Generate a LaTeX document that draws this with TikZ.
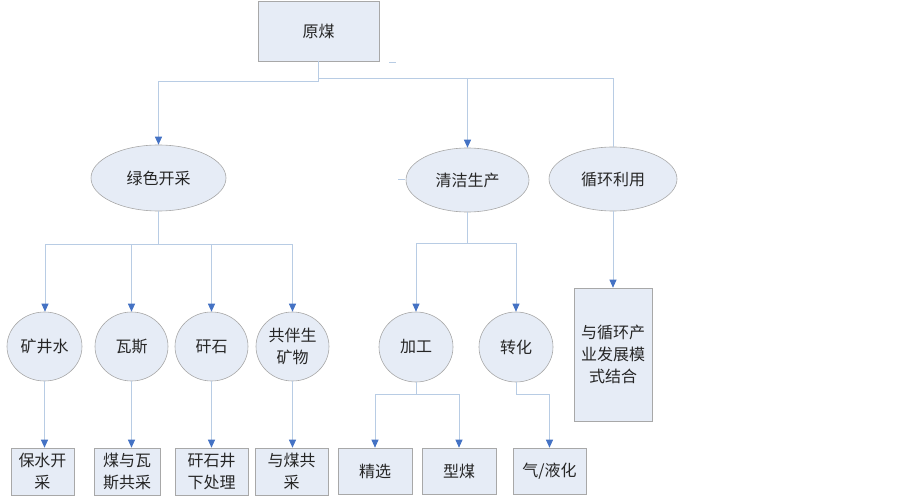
\documentclass[tikz,border=0pt]{standalone}
\usepackage{fontspec}
\setmainfont{Noto Sans CJK SC}
\usetikzlibrary{shapes.geometric,arrows.meta}
\definecolor{boxfill}{HTML}{E6ECF6}
\definecolor{boxline}{HTML}{A8A8A8}
\definecolor{linecol}{HTML}{B8CCE4}
\definecolor{arrowcol}{HTML}{4472C4}
\tikzset{
  base/.style={draw=boxline, fill=boxfill, line width=0.6pt, inner sep=0pt, align=center,
    font=\fontsize{16}{22}\selectfont, text=black!85},
  rectbox/.style={base, rectangle},
  ellbox/.style={base, ellipse},
  conn/.style={draw=linecol, line width=0.9pt},
  arr/.style={conn, -{Triangle[width=7pt,length=8pt,color=arrowcol]}},
}
\begin{document}
\begin{tikzpicture}[x=1pt,y=-1pt]
\useasboundingbox (0,0) rectangle (903,497);
% nodes
\node[rectbox, minimum width=121pt, minimum height=60pt] (raw) at (318.5,31) {原煤};
\node[ellbox, minimum width=135pt, minimum height=66pt] (green) at (158.5,178) {绿色开采};
\node[ellbox, minimum width=123pt, minimum height=64pt] (clean) at (467.5,180) {清洁生产};
\node[ellbox, minimum width=128pt, minimum height=64pt] (cycle) at (613,179) {循环利用};
\node[ellbox, minimum width=75pt, minimum height=69pt] (c1) at (44.5,346.5) {矿井水};
\node[ellbox, minimum width=73pt, minimum height=69pt] (c2) at (131.5,346.5) {瓦斯};
\node[ellbox, minimum width=73pt, minimum height=69pt] (c3) at (211.5,346.5) {矸石};
\node[ellbox, minimum width=73pt, minimum height=69pt] (c4) at (292.5,346.5) {共伴生\\矿物};
\node[ellbox, minimum width=74pt, minimum height=70pt] (c5) at (416,347) {加工};
\node[ellbox, minimum width=74pt, minimum height=70pt] (c6) at (516,347) {转化};
\node[rectbox, minimum width=63pt, minimum height=47pt] (b1) at (42.5,471.5) {保水开\\采};
\node[rectbox, minimum width=66pt, minimum height=47pt] (b2) at (127,471.5) {煤与瓦\\斯共采};
\node[rectbox, minimum width=73pt, minimum height=47pt] (b3) at (211.5,471.5) {矸石井\\下处理};
\node[rectbox, minimum width=73pt, minimum height=47pt] (b4) at (291.5,471.5) {与煤共\\采};
\node[rectbox, minimum width=74pt, minimum height=46pt] (b5) at (375,471) {精选};
\node[rectbox, minimum width=74pt, minimum height=46pt] (b6) at (459,471) {型煤};
\node[rectbox, minimum width=73pt, minimum height=46pt] (b7) at (549.5,471) {气/液化};
\node[rectbox, minimum width=78pt, minimum height=133pt] (b8) at (613,354.5) {与循环产\\业发展模\\式结合};
% junction coordinates
\coordinate (rjl) at (318.5,81);
\coordinate (rjr) at (318.5,78);
\coordinate (gj) at (158.5,244);
\coordinate (cj) at (467.5,243.5);
\coordinate (pj) at (416,394);
\coordinate (tj) at (516,394);
% connectors
\draw[arr] (raw.south) -- (rjl) -| (green.north);
\draw[arr] (raw.south) -- (rjr) -| (clean.north);
\draw[conn] (rjr) -| (cycle.north);
\draw[conn] (green.south) -- (gj);
\draw[arr] (gj) -| ([xshift=0.5pt]c1.north);
\draw[arr] (gj) -| (c2.north);
\draw[arr] (gj) -| (c3.north);
\draw[arr] (gj) -| (c4.north);
\draw[conn] (clean.south) -- (cj);
\draw[arr] (cj) -| (c5.north);
\draw[arr] (cj) -| (c6.north);
\draw[arr] (cycle.south) -- (b8.north);
\draw[arr] (c1.south) -- (c1.south |- b1.north);
\draw[arr] (c2.south) -- (c2.south |- b2.north);
\draw[arr] (c3.south) -- (c3.south |- b3.north);
\draw[arr] (c4.south) -- (c4.south |- b4.north);
\draw[conn] (c5.south) -- (pj);
\draw[arr] (pj) -| (b5.north);
\draw[arr] (pj) -| (b6.north);
\draw[conn] (c6.south) -- (tj);
\draw[arr] (tj) -| (b7.north);
% stray ticks
\coordinate (s1a) at (389,62); \coordinate (s1b) at (396,62);
\coordinate (s2a) at (398,179); \coordinate (s2b) at (405,179);
\draw[conn, line width=0.6pt] (s1a) -- (s1b);
\draw[conn, line width=0.6pt] (s2a) -- (s2b);
\end{tikzpicture}
\end{document}
